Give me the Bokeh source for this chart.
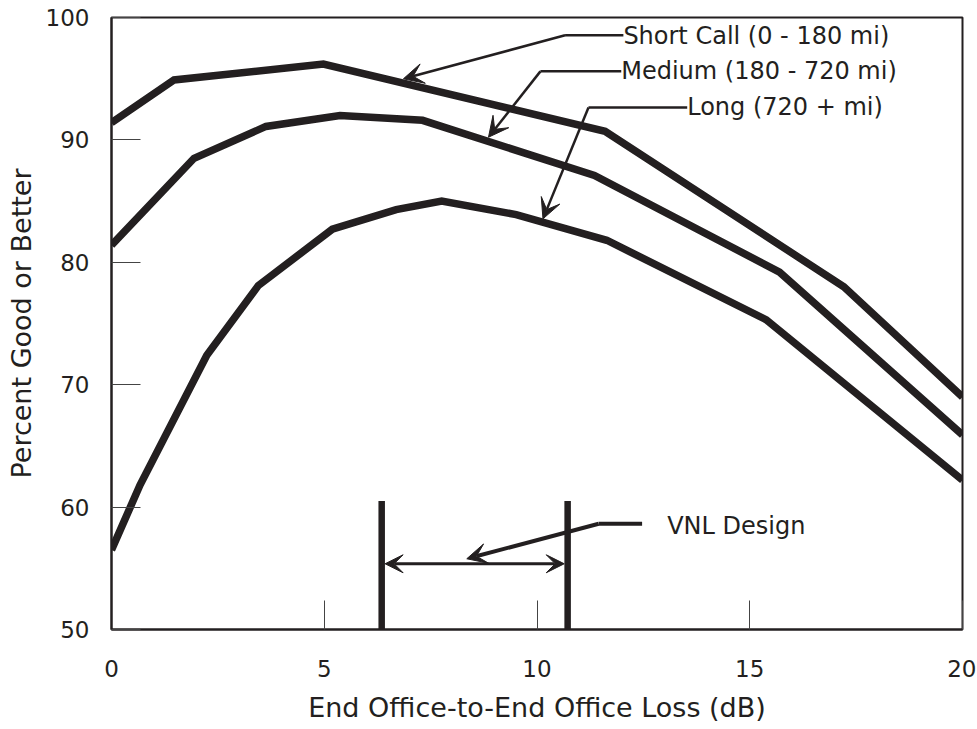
from bokeh.plotting import figure
from bokeh.models import Arrow, VeeHead, FixedTicker
from bokeh.embed import file_html
from bokeh.resources import INLINE
from bokeh.core.properties import value

# ---- data ----
loss_short = [0.0, 1.47, 4.98, 11.6, 17.21, 20.0]
pct_short = [91.4, 94.9, 96.2, 90.7, 78.0, 69.0]

loss_medium = [0.0, 1.94, 3.63, 5.37, 7.31, 11.35, 15.7, 20.0]
pct_medium = [81.4, 88.5, 91.1, 92.0, 91.6, 87.1, 79.2, 65.9]

loss_long = [0.0, 0.67, 2.24, 3.45, 5.19, 6.69, 7.76, 9.51, 11.64, 15.39, 20.0]
pct_long = [56.5, 61.8, 72.4, 78.1, 82.7, 84.3, 85.0, 83.9, 81.8, 75.3, 62.2]

vnl_low = 6.35
vnl_high = 10.72
vnl_top = 60.5

x_ticks = [0, 5, 10, 15, 20]
y_ticks = [50, 60, 70, 80, 90, 100]

series_labels = ["Short Call (0 - 180 mi)", "Medium (180 - 720 mi)", "Long (720 +  mi)"]
vnl_label = "VNL Design"
x_title = "End Office-to-End Office Loss (dB)"
y_title = "Percent Good or Better"

# ---- annotation geometry (label anchor, leader corner, arrow tip) ----
label_x = [12.03, 11.98, 13.53]
label_y = [98.5, 95.6, 92.65]
leader_corner_x = [10.66, 10.08, 11.21]
leader_tip_x = [6.86, 8.86, 10.14]
leader_tip_y = [94.99, 90.22, 83.55]
vnl_label_x, vnl_label_y = 13.06, 58.45
vnl_leader = ([12.47, 11.45], 58.64)
vnl_tip = (8.35, 55.78)
vnl_span_y = 55.37

INK = "#231f20"
FONT = "DejaVu Sans"

p = figure(
    frame_width=851, frame_height=612,
    x_range=(0, 20), y_range=(50, 100),
    output_backend="svg", toolbar_location=None,
    min_border_left=111, min_border_right=14, min_border_top=17, min_border_bottom=99,
    background_fill_color="white", border_fill_color="white",
)
p.grid.visible = False
p.outline_line_color = INK
p.outline_line_width = 2

for xs, ys in [(loss_short, pct_short), (loss_medium, pct_medium), (loss_long, pct_long)]:
    p.line(xs, ys, line_width=7.5, line_color=INK, line_join="miter")

# VNL design window
for xv in (vnl_low, vnl_high):
    p.segment(x0=[xv], y0=[50], x1=[xv], y1=[vnl_top], line_width=6.5, line_color=INK)
p.add_layout(Arrow(x_start=vnl_low + 0.08, y_start=vnl_span_y, x_end=vnl_high - 0.08, y_end=vnl_span_y,
                   line_width=3, line_color=INK,
                   start=VeeHead(size=18, fill_color=INK, line_color=INK),
                   end=VeeHead(size=18, fill_color=INK, line_color=INK)))

# series labels with leader arrows
for i, txt in enumerate(series_labels):
    p.text(x=[label_x[i]], y=[label_y[i]], text=[txt], text_font=value(FONT),
           text_font_size="24px", text_color=INK, text_align="left", text_baseline="middle")
    ly = label_y[i] if i else label_y[i] + 0.05
    p.line([label_x[i], leader_corner_x[i]], [ly, ly], line_width=2.5, line_color=INK)
    p.add_layout(Arrow(x_start=leader_corner_x[i], y_start=ly, x_end=leader_tip_x[i], y_end=leader_tip_y[i],
                       line_width=2.5, line_color=INK,
                       end=VeeHead(size=20, fill_color=INK, line_color=INK), start=None))

p.text(x=[vnl_label_x], y=[vnl_label_y], text=[vnl_label], text_font=value(FONT),
       text_font_size="24px", text_color=INK, text_align="left", text_baseline="middle")
p.line(vnl_leader[0], [vnl_leader[1]] * 2, line_width=4, line_color=INK)
p.add_layout(Arrow(x_start=vnl_leader[0][1], y_start=vnl_leader[1], x_end=vnl_tip[0], y_end=vnl_tip[1],
                   line_width=4, line_color=INK,
                   end=VeeHead(size=20, fill_color=INK, line_color=INK), start=None))

# axes
for ax, ticks in ((p.xaxis, x_ticks), (p.yaxis, y_ticks)):
    ax.ticker = FixedTicker(ticks=ticks)
    ax.major_tick_in = 29
    ax.major_tick_out = 0
    ax.minor_tick_line_color = None
    ax.major_tick_line_color = "#444444"
    ax.major_tick_line_width = 1
    ax.axis_line_color = INK
    ax.axis_line_width = 2
    ax.major_label_text_font = FONT
    ax.major_label_text_font_size = "23px"
    ax.major_label_text_color = INK
    ax.axis_label_text_font = FONT
    ax.axis_label_text_font_size = "27px"
    ax.axis_label_text_color = INK
    ax.axis_label_text_font_style = "normal"

p.xaxis.axis_label = x_title
p.yaxis.axis_label = y_title
p.xaxis.major_label_standoff = 30
p.xaxis.axis_label_standoff = 12
p.yaxis.major_label_standoff = 22
p.yaxis.axis_label_standoff = 6

open("out.html", "w").write(file_html(p, INLINE))
